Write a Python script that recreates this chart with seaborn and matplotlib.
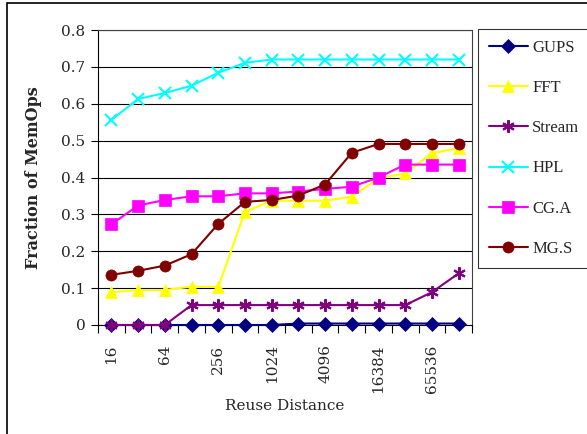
import numpy as np
import pandas as pd
import matplotlib
matplotlib.use('Agg')
import matplotlib.pyplot as plt
import seaborn as sns
from matplotlib.patches import Rectangle

# Данные
distances = ['16', '32', '64', '128', '256', '512', '1024', '2048', '4096',
             '8192', '16384', '32768', '65536', '131072']
gups = [0, 0, 0, 0, 0, 0, 0, 0.004, 0.004, 0.004, 0.004, 0.004, 0.004, 0.004]
fft = [0.089, 0.095, 0.095, 0.104, 0.103, 0.307, 0.337, 0.337, 0.337, 0.348,
       0.398, 0.411, 0.466, 0.479]
stream = [0, 0, 0, 0.054, 0.054, 0.054, 0.054, 0.054, 0.054, 0.054,
          0.054, 0.054, 0.089, 0.140]
hpl = [0.556, 0.613, 0.629, 0.649, 0.684, 0.711, 0.72, 0.72, 0.72, 0.72,
       0.72, 0.72, 0.72, 0.72]
cga = [0.273, 0.324, 0.339, 0.349, 0.349, 0.357, 0.357, 0.362, 0.369, 0.375,
       0.400, 0.435, 0.435, 0.435]
mgs = [0.136, 0.147, 0.161, 0.192, 0.274, 0.334, 0.339, 0.351, 0.381, 0.467,
       0.491, 0.491, 0.491, 0.491]

series = {'GUPS': gups, 'FFT': fft, 'Stream': stream, 'HPL': hpl,
          'CG.A': cga, 'MG.S': mgs}
colors = {'GUPS': '#000080', 'FFT': '#FFFF00', 'Stream': '#800080',
          'HPL': '#00FFFF', 'CG.A': '#FF00FF', 'MG.S': '#800000'}
markers = {'GUPS': 'D', 'FFT': '^', 'Stream': (6, 2, 0), 'HPL': 'x',
           'CG.A': 's', 'MG.S': 'o'}
msizes = {'GUPS': 7, 'FFT': 8.5, 'Stream': 9, 'HPL': 9, 'CG.A': 8, 'MG.S': 8}

rows = []
for name, vals in series.items():
    for i, v in enumerate(vals):
        rows.append({'pos': i, 'value': v, 'bench': name})
df = pd.DataFrame(rows)

sns.set_style('white')
plt.rcParams['font.family'] = ['DejaVu Serif']

fig = plt.figure(figsize=(5.87, 4.34), dpi=100)
ax = fig.add_axes([98 / 587, 1 - 325 / 434, (472 - 98) / 587, (325 - 30) / 434])

for k, name in enumerate(series):
    sub = df[df['bench'] == name]
    sns.lineplot(data=sub, x='pos', y='value', color=colors[name],
                 marker=markers[name], markersize=msizes[name], linewidth=1.5,
                 markeredgecolor=colors[name],
                 markeredgewidth=1.5 if name in ('HPL', 'Stream') else 0.5,
                 label=name, ax=ax, legend=False, clip_on=False,
                 zorder=3 + k)

ax.set_xlim(-0.5, len(distances) - 0.5)
ax.set_ylim(0, 0.8)
ax.set_yticks(np.arange(0, 0.81, 0.1))
ax.set_yticklabels(['0'] + [f'{v:.1f}' for v in np.arange(0.1, 0.81, 0.1)],
                   fontsize=11)
ax.yaxis.grid(True, color='black', linewidth=0.8)
ax.set_axisbelow(True)

# тики на границах категорий, подписи через одну
ax.set_xticks(np.arange(-0.5, len(distances), 1.0))
ax.set_xticklabels([])
ax.set_xticks(np.arange(len(distances)), minor=True)
ax.set_xticklabels([d if i % 2 == 0 else '' for i, d in enumerate(distances)],
                   minor=True, rotation=90, fontsize=11)
ax.tick_params(axis='x', which='major', direction='out', length=6,
               width=0.8, color='black', bottom=True)
ax.tick_params(axis='x', which='minor', length=0, pad=14)
ax.tick_params(axis='y', direction='out', length=5, width=0.8, pad=4,
               color='black', left=True)

for s in ax.spines.values():
    s.set_color('#404040')
    s.set_linewidth(0.8)
ax.spines['left'].set_color('black')
ax.spines['bottom'].set_color('black')

ax.set_xlabel('Reuse Distance', fontsize=11, labelpad=4)
ax.set_ylabel('Fraction of MemOps', fontsize=11.5, fontweight='bold',
              labelpad=14)

handles, labels = ax.get_legend_handles_labels()
leg = fig.legend(handles, labels, loc='upper left',
                 bbox_to_anchor=(478 / 587, 1 - 29 / 434),
                 prop={'family': 'Liberation Serif', 'size': 12},
                 frameon=True, fancybox=False, edgecolor='black',
                 labelspacing=1.45, handlelength=2.35, handletextpad=0.25,
                 borderpad=0.65, borderaxespad=0)
leg.get_frame().set_linewidth(0.8)

# внешняя рамка
fig.patches.append(Rectangle((7 / 587, -0.05), 1.2, 1.05 - 3 / 434,
                             transform=fig.transFigure, fill=False,
                             edgecolor='black', linewidth=1.2))

fig.savefig('out.png', dpi=100)
